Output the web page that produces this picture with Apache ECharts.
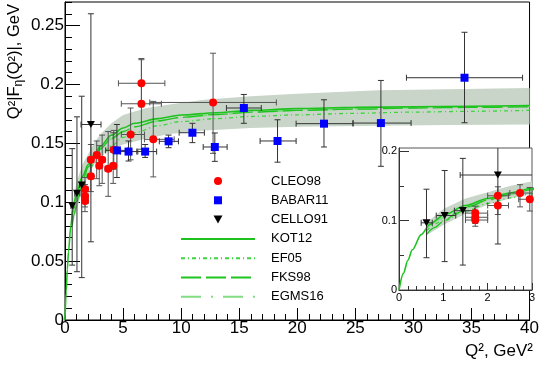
<!DOCTYPE html>
<html><head><meta charset="utf-8">
<script src="https://cdn.jsdelivr.net/npm/echarts@6/dist/echarts.min.js"></script>
<style>html,body{margin:0;padding:0;background:#fff}#c{width:542px;height:365px}</style>
</head><body><div id="c"></div>
<script>
// ---------- data ----------
// rows: [Q2, value, Q2 low, Q2 high, value low, value high]
const cleo98 = [
  [1.72, 0.111, 1.50, 2.00, 0.101, 0.121],
  [1.72, 0.105, 1.50, 2.00, 0.096, 0.115],
  [1.72, 0.101, 1.50, 2.00, 0.092, 0.111],
  [2.23, 0.122, 2.00, 2.47, 0.109, 0.135],
  [2.23, 0.136, 2.00, 2.47, 0.124, 0.149],
  [2.73, 0.140, 2.50, 3.00, 0.120, 0.152],
  [2.95, 0.131, 2.70, 3.20, 0.114, 0.148],
  [3.20, 0.136, 2.95, 3.45, 0.116, 0.157],
  [3.72, 0.1285, 3.45, 4.00, 0.105, 0.160],
  [4.15, 0.131, 3.90, 4.40, 0.116, 0.159],
  [4.20, 0.1445, 3.90, 4.50, 0.128, 0.161],
  [5.65, 0.1575, 4.85, 6.85, 0.136, 0.180],
  [6.58, 0.201, 4.60, 8.60, 0.181, 0.221],
  [6.58, 0.1836, 4.85, 8.30, 0.145, 0.222],
  [7.60, 0.1534, 6.84, 9.40, 0.1215, 0.1856],
  [12.75, 0.1847, 7.30, 18.20, 0.1415, 0.2265]
];
const babar11 = [
  [4.47, 0.144, 3.50, 5.40, 0.121, 0.166],
  [5.47, 0.143, 4.79, 6.27, 0.135, 0.152],
  [6.90, 0.143, 6.18, 7.89, 0.138, 0.149],
  [8.92, 0.1517, 8.12, 9.77, 0.1463, 0.157],
  [10.97, 0.159, 9.83, 12.00, 0.1506, 0.167],
  [12.90, 0.1469, 11.90, 13.96, 0.1347, 0.1588],
  [15.40, 0.180, 13.90, 16.90, 0.167, 0.1915],
  [18.30, 0.152, 16.80, 19.90, 0.134, 0.170],
  [22.30, 0.1667, 19.90, 24.80, 0.1469, 0.187],
  [27.20, 0.1672, 24.80, 29.80, 0.1305, 0.2034],
  [34.40, 0.2057, 29.40, 39.40, 0.1675, 0.2443]
];
const cello91 = [
  [0.62, 0.097, 0.50, 0.75, 0.0466, 0.1455],
  [1.03, 0.1075, 0.84, 1.28, 0.041, 0.1725],
  [1.44, 0.1145, 1.25, 1.70, 0.036, 0.190],
  [2.23, 0.166, 1.38, 3.10, 0.0664, 0.260]
];
// theory curves
const kot12Q2 = [0, 0.1, 0.2, 0.3, 0.5, 0.7, 1, 1.5, 2, 2.5, 3, 4, 5, 6, 8, 10, 13, 16, 20, 25, 30, 35, 40];
const kot12   = [0, 0.024, 0.043, 0.058, 0.080, 0.095, 0.108, 0.122, 0.132, 0.140, 0.147, 0.157, 0.163, 0.167, 0.171, 0.174, 0.176, 0.178, 0.1795, 0.1805, 0.181, 0.1815, 0.182];
const ef05Q2  = [0.62, 1, 1.5, 2, 2.5, 3, 4, 5, 6, 8, 10, 13, 16, 20, 25, 30, 35, 40];
const ef05    = [0.086, 0.100, 0.114, 0.125, 0.133, 0.139, 0.148, 0.155, 0.159, 0.165, 0.1685, 0.171, 0.1728, 0.1742, 0.1755, 0.1765, 0.1772, 0.178];
const fks98Q2 = [0.62, 0.8, 1, 1.3, 1.6, 2, 2.5, 3, 4, 5, 6, 8, 10, 13, 16, 20, 25, 30, 35, 40];
const fks98   = [0.080, 0.090, 0.099, 0.111, 0.121, 0.130, 0.138, 0.145, 0.154, 0.160, 0.164, 0.169, 0.172, 0.1745, 0.1765, 0.178, 0.179, 0.180, 0.1805, 0.181];
const egms16Q2 = [0.62, 1, 1.5, 2, 2.5, 3, 4, 5, 6, 8, 10, 13, 16, 20, 25, 30, 35, 40];
const egms16   = [0.090, 0.104, 0.119, 0.130, 0.138, 0.145, 0.154, 0.160, 0.164, 0.169, 0.172, 0.1745, 0.1765, 0.178, 0.1795, 0.1805, 0.181, 0.1815];
// uncertainty band
const bandQ2 = [0.62, 1, 1.5, 2, 2.5, 3, 4, 5, 7, 9, 12, 16, 20, 27, 33, 40];
const bandHi = [0.097, 0.117, 0.132, 0.141, 0.150, 0.157, 0.167, 0.174, 0.180, 0.183, 0.187, 0.190, 0.192, 0.195, 0.196, 0.197];
const bandLo = [0.079, 0.094, 0.110, 0.123, 0.132, 0.139, 0.145, 0.149, 0.154, 0.158, 0.161, 0.163, 0.164, 0.165, 0.1655, 0.166];
// ticks
const mainYTicks = [0, 0.05, 0.1, 0.15, 0.2, 0.25];
const insetYTicks = [0, 0.1, 0.2];
const insetYMinor = [0.05, 0.15];
const markerNames = ['CLEO98', 'BABAR11', 'CELLO91'];
const curveNames = ['KOT12', 'EF05', 'FKS98', 'EGMS16'];

// ---------- chart ----------
const FONT = 'Liberation Sans, Arimo, Helvetica, Arial, sans-serif';
const chart = echarts.init(document.getElementById('c'), null, {renderer: 'canvas'});
const MAIN = {x: [0, 40], y: [0, 0.27]};
const INSET = {x: [0, 3], y: [0, 0.205]};

function pairs(xs, ys) { return xs.map((x, i) => [x, ys[i]]); }

function bandSeries(xi, yi, range) {
  return {
    type: 'custom', name: 'band' + xi, xAxisIndex: xi, yAxisIndex: yi, z: 1, silent: true,
    data: [[bandQ2[0], bandLo[0]]],
    renderItem: function (params, api) {
      const pts = [];
      for (let i = 0; i < bandQ2.length; i++) if (bandQ2[i] <= range.x[1]) pts.push(api.coord([bandQ2[i], bandHi[i]]));
      for (let i = bandQ2.length - 1; i >= 0; i--) if (bandQ2[i] <= range.x[1]) pts.push(api.coord([bandQ2[i], bandLo[i]]));
      return {type: 'polygon', shape: {points: pts}, style: {fill: 'rgb(200,213,200)', stroke: null}};
    }
  };
}

function errSeries(rows, xi, yi, range, color) {
  return {
    type: 'custom', name: 'err', xAxisIndex: xi, yAxisIndex: yi, z: 3, silent: true,
    data: rows, encode: {x: 0, y: 1},
    renderItem: function (params, api) {
      const q = api.value(0), v = api.value(1);
      if (q < range.x[0] || q > range.x[1] || v < range.y[0] || v > range.y[1]) return null;
      const xl = api.value(2), xh = api.value(3), yl = api.value(4), yh = api.value(5);
      const st = {stroke: color, lineWidth: 1};
      const cap = 3;
      const c = [];
      const a = api.coord([Math.max(xl, range.x[0]), v]);
      const b = api.coord([Math.min(xh, range.x[1]), v]);
      const lo = api.coord([q, Math.max(yl, range.y[0])]);
      const hi = api.coord([q, Math.min(yh, range.y[1])]);
      c.push({type: 'line', shape: {x1: a[0], y1: a[1], x2: b[0], y2: b[1]}, style: st});
      c.push({type: 'line', shape: {x1: lo[0], y1: lo[1], x2: hi[0], y2: hi[1]}, style: st});
      if (xl >= range.x[0]) c.push({type: 'line', shape: {x1: a[0], y1: a[1] - cap, x2: a[0], y2: a[1] + cap}, style: st});
      if (xh <= range.x[1]) c.push({type: 'line', shape: {x1: b[0], y1: b[1] - cap, x2: b[0], y2: b[1] + cap}, style: st});
      if (yl >= range.y[0]) c.push({type: 'line', shape: {x1: lo[0] - cap, y1: lo[1], x2: lo[0] + cap, y2: lo[1]}, style: st});
      if (yh <= range.y[1]) c.push({type: 'line', shape: {x1: hi[0] - cap, y1: hi[1], x2: hi[0] + cap, y2: hi[1]}, style: st});
      return {type: 'group', children: c};
    }
  };
}

const TRI = 'path://M0,0L10,0L5,9Z';
const SQ = 'path://M0,0L10,0L10,10L0,10Z';
function pointSeries(name, rows, xi, yi, symbol, color, size) {
  return {type: 'scatter', name: name, xAxisIndex: xi, yAxisIndex: yi, z: 4, silent: true,
    symbol: symbol, symbolSize: size, symbolKeepAspect: true, itemStyle: {color: color, opacity: 1},
    data: rows.map(r => [r[0], r[1]])};
}

const curveDefs = [
  {name: 'EGMS16', xs: egms16Q2, ys: egms16, color: '#82dc82', width: 2, type: [20, 10, 2, 10]},
  {name: 'FKS98', xs: fks98Q2, ys: fks98, color: '#1fc41f', width: 1.3, type: [20, 5]},
  {name: 'EF05', xs: ef05Q2, ys: ef05, color: '#3fd43f', width: 1.3, type: [4, 3, 1, 3]},
  {name: 'KOT12', xs: kot12Q2, ys: kot12, color: '#1ec21e', width: 1.6, type: 'solid'}
];
function curveSeries(d, xi, yi, suffix) {
  return {type: 'line', name: d.name + suffix, xAxisIndex: xi, yAxisIndex: yi, z: 2, silent: true,
    symbol: 'none', smooth: 0.3, smoothMonotone: 'x',
    lineStyle: {color: d.color, width: d.width, type: d.type}, itemStyle: {color: d.color, opacity: 0},
    data: pairs(d.xs, d.ys)};
}

const series = [];
[[0, 0, MAIN, ''], [1, 2, INSET, ' inset']].forEach(function (g) {
  const xi = g[0], yi = g[1], range = g[2], suf = g[3];
  series.push(bandSeries(xi, yi, range));
  curveDefs.forEach(d => series.push(curveSeries(d, xi, yi, suf)));
  series.push(errSeries(cleo98, xi, yi, range, '#555'));
  series.push(errSeries(babar11, xi, yi, range, '#333'));
  series.push(errSeries(cello91, xi, yi, range, '#333'));
  series.push(pointSeries('CLEO98' + suf, cleo98, xi, yi, 'circle', '#ff0000', 8));
  series.push(pointSeries('BABAR11' + suf, babar11, xi, yi, SQ, '#0000ff', 8));
  series.push(pointSeries('CELLO91' + suf, cello91, xi, yi, TRI, '#000000', 8));
});

const legendData = markerNames.map(n => ({name: n}))
  .concat(curveNames.map(n => ({name: n, itemStyle: {opacity: 0}})));

const axisLineBlack = {show: true, lineStyle: {color: '#000', width: 1}};
const option = {
  animation: false,
  backgroundColor: '#fff',
  textStyle: {fontFamily: FONT},
  grid: [
    {left: 65, top: 2, width: 468, height: 318, show: true, borderColor: '#000', borderWidth: 1, backgroundColor: 'transparent'},
    {left: 399, top: 148, width: 133, height: 142, show: true, borderColor: '#555', borderWidth: 1, backgroundColor: '#fff'}
  ],
  xAxis: [
    {gridIndex: 0, type: 'value', min: MAIN.x[0], max: MAIN.x[1], interval: 5,
      axisLine: axisLineBlack, splitLine: {show: false},
      axisTick: {show: true, inside: true, length: 12, lineStyle: {color: '#000'}},
      minorTick: {show: true, splitNumber: 5, length: 6, lineStyle: {color: '#000'}},
      axisLabel: {fontSize: 17, color: '#000', margin: 0, fontFamily: FONT}},
    {gridIndex: 1, type: 'value', min: INSET.x[0], max: INSET.x[1], interval: 1,
      axisLine: {show: true, lineStyle: {color: '#333'}}, splitLine: {show: false},
      axisTick: {show: true, inside: true, length: 7, lineStyle: {color: '#333'}},
      minorTick: {show: true, splitNumber: 5, length: 4, lineStyle: {color: '#333'}},
      axisLabel: {fontSize: 11, color: '#000', margin: 2, fontFamily: FONT}}
  ],
  yAxis: [
    {gridIndex: 0, type: 'value', position: 'left', offset: 0, min: MAIN.y[0], max: MAIN.y[1], interval: 0.05,
      axisLine: axisLineBlack, splitLine: {show: false},
      axisTick: {show: true, inside: true, length: 15, customValues: mainYTicks, lineStyle: {color: '#000'}},
      axisLabel: {fontSize: 17, color: '#000', margin: 1, customValues: mainYTicks, fontFamily: FONT}},
    {gridIndex: 0, type: 'value', position: 'left', offset: 0, min: MAIN.y[0], max: MAIN.y[1], interval: 0.01,
      axisLine: {show: false}, splitLine: {show: false}, axisLabel: {show: false},
      axisTick: {show: true, inside: true, length: 7, lineStyle: {color: '#000'}}},
    {gridIndex: 1, type: 'value', position: 'left', offset: 0, min: INSET.y[0], max: INSET.y[1], interval: 0.1,
      axisLine: {show: true, lineStyle: {color: '#333'}}, splitLine: {show: false},
      axisTick: {show: true, inside: true, length: 10, customValues: insetYTicks, lineStyle: {color: '#333'}},
      axisLabel: {fontSize: 11, color: '#000', margin: 2, customValues: insetYTicks, fontFamily: FONT}},
    {gridIndex: 1, type: 'value', position: 'left', offset: 0, min: INSET.y[0], max: INSET.y[1], interval: 0.05,
      axisLine: {show: false}, splitLine: {show: false}, axisLabel: {show: false},
      axisTick: {show: true, inside: true, length: 5, customValues: insetYMinor, lineStyle: {color: '#333'}}}
  ],
  legend: {
    data: legendData, orient: 'vertical', left: 180, top: 174.5, padding: 0, itemWidth: 74, itemHeight: 8, itemGap: 6.3,
    selectedMode: false, symbolKeepAspect: true,
    textStyle: {fontSize: 13, color: '#000', fontFamily: FONT, padding: [0, 0, 0, 11]}
  },
  graphic: [
    {type: 'text', x: 533, y: 360, silent: true,
      style: {text: 'Q², GeV²', align: 'right', verticalAlign: 'bottom', fontSize: 17, fontFamily: FONT, fill: '#000'}},
    {type: 'text', x: 14, y: 4, rotation: Math.PI / 2, silent: true,
      style: {text: '{a|Q²|F}{s|η}{a|(Q²)|, GeV}', align: 'right', verticalAlign: 'middle', fill: '#000',
        rich: {a: {fontSize: 16.5, fontFamily: FONT, fill: '#000'}, s: {fontSize: 12, fontFamily: FONT, fill: '#000', padding: [10, 0, 0, 0]}}}}
  ],
  series: series
};
chart.setOption(option);
</script>
</body></html>
